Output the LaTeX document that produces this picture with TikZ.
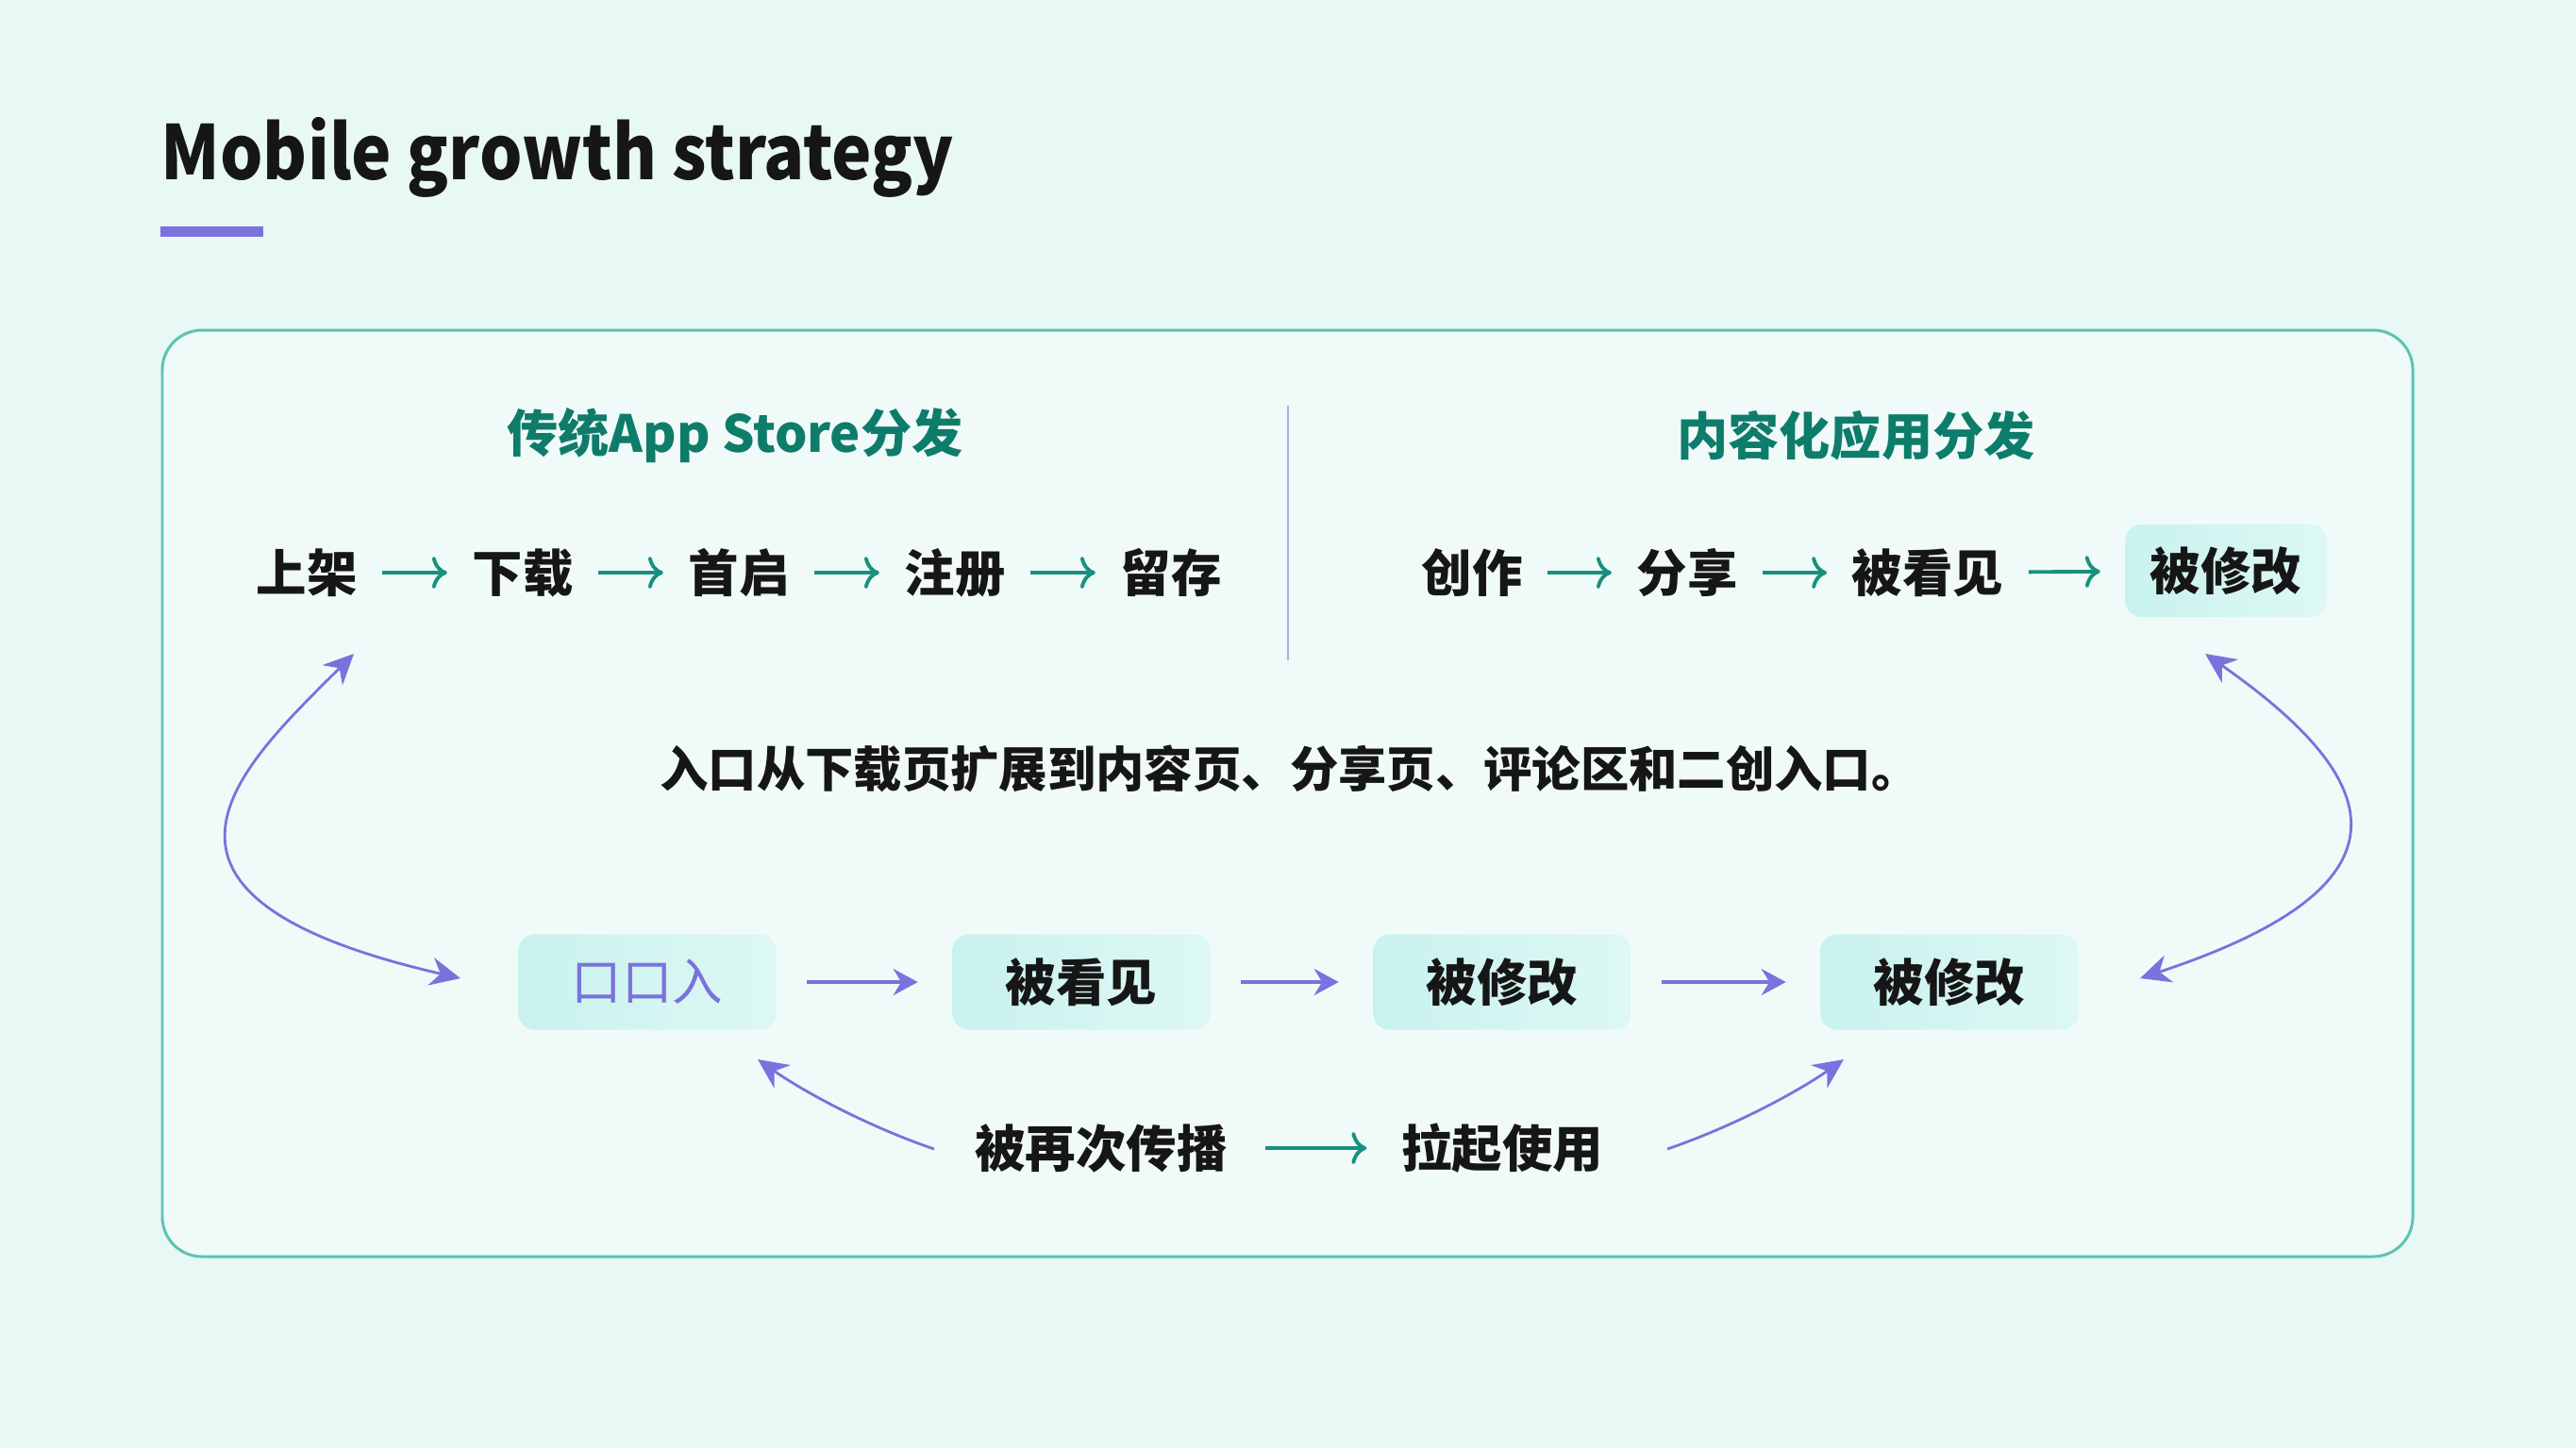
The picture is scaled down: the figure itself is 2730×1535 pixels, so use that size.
\documentclass[tikz,border=0pt]{standalone}
\usepackage{fontspec}
\setmainfont{Noto Sans CJK SC}
\usetikzlibrary{arrows.meta,calc}
\definecolor{bgmint}{HTML}{E8F8F4}
\definecolor{panelfill}{HTML}{F0FBF9}
\definecolor{panelline}{HTML}{5CC4B3}
\definecolor{tealtext}{HTML}{0E7C6B}
\definecolor{tealarrow}{HTML}{18907E}
\definecolor{purp}{HTML}{7A72DD}
\definecolor{lavline}{HTML}{B3AEEA}
\definecolor{boxa}{HTML}{C9F2EE}
\definecolor{boxb}{HTML}{DDF8F4}
\definecolor{inkblack}{HTML}{161616}

\begin{document}
\begin{tikzpicture}[x=0.01cm, y=-0.01cm,
  word/.style={inner sep=0pt, font=\fontsize{15.2}{18}\selectfont\bfseries, text=inkblack},
  head/.style={inner sep=0pt, font=\fontsize{15.4}{18}\selectfont\bfseries, text=tealtext},
  flow_box/.style={word, rounded corners=0.17cm, left color=boxa, right color=boxb, minimum width=2.73cm, minimum height=1.01cm},
  tl_arr/.style={draw=tealarrow, line width=1.1pt, -{To[length=0.16cm,width=0.34cm]}, shorten <=0.26cm, shorten >=0.26cm},
  pp_arr/.style={draw=purp, line width=1.1pt, -{Stealth[length=0.26cm,width=0.28cm]}, shorten <=0.32cm, shorten >=0.36cm},
  loop_arr/.style={draw=purp, line width=0.8pt, {Stealth[length=0.32cm,width=0.3cm]}-{Stealth[length=0.32cm,width=0.3cm]}},
  arc_arr/.style={draw=purp, line width=0.8pt, -{Stealth[length=0.32cm,width=0.3cm]}}]
\fill[bgmint] (0,0) rectangle (2730,1535);
\useasboundingbox (0,0) rectangle (2730,1535);
\draw [draw=panelline, line width=0.85pt, fill=panelfill, rounded corners=0.42cm] (172,350) rectangle (2557,1332);
\node[anchor=base west, inner sep=0pt, font=\fontsize{22.6}{26}\selectfont\bfseries, text=inkblack] (ttl) at (170,190) {\scalebox{0.9}[1]{Mobile growth strategy}};
\fill[purp] (170,240) rectangle (279,251);
\draw [lavline, line width=0.6pt] (1365,430) -- (1365,700);
\node[head] (hd_l) at (779,462) {传统App Store分发};
\node[head] (hd_r) at (1967,462) {内容化应用分发};
\foreach \w [count=\i] in {上架,下载,首启,注册,留存}
  \node[word] (tl_\i) at (96+229*\i,607) {\w};
\foreach \i/\j in {1/2,2/3,3/4,4/5}
  \draw [tl_arr] (tl_\i) -- (tl_\j);
\node[word] (tr_1) at (1560,607) {创作};
\node[word] (tr_2) at (1788,607) {分享};
\node[word] (tr_3) at (2043,607) {被看见};
\node[flow_box, minimum width=2.13cm, minimum height=0.98cm] (tr_4) at (2359,605) {被修改};
\foreach \i/\j in {1/2,2/3,3/4}
  \draw [tl_arr] (tr_\i) -- (tr_\j);
\node[word, font=\fontsize{14.6}{18}\selectfont\bfseries] (mid) at (1367,815) {入口从下载页扩展到内容页、分享页、评论区和二创入口。};
\node[flow_box, text=purp, font=\fontsize{15.2}{18}\selectfont] (bt_1) at (686,1041) {口口入};
\node[flow_box] (bt_2) at (1146,1041) {被看见};
\node[flow_box] (bt_3) at (1592,1041) {被修改};
\node[flow_box] (bt_4) at (2066,1041) {被修改};
\foreach \i/\j in {1/2,2/3,3/4}
  \draw [pp_arr] (bt_\i) -- (bt_\j);
\node[word] (bt_sp) at (1167,1217) {被再次传播};
\node[word] (bt_up) at (1592,1217) {拉起使用};
\draw [tl_arr, shorten <=0.4cm, shorten >=0.36cm] (bt_sp) -- (bt_up);
\draw [loop_arr] ($(tl_1)+(50,86)$) .. controls +(-120,120) and +(-383,-88) .. ($(bt_1)+(-198,-4)$);
\draw [loop_arr] ($(tr_4)+(-22,88)$) .. controls +(189,132) and +(303,-100) .. ($(bt_4)+(202,-4)$);
\draw [arc_arr] ($(bt_sp)+(-177,1)$) .. controls +(-70,-24) and +(50,35) .. ($(bt_1)+(117,82)$);
\draw [arc_arr] ($(bt_up)+(175,1)$) .. controls +(70,-24) and +(-50,35) .. ($(bt_4)+(-112,82)$);
\end{tikzpicture}
\end{document}
